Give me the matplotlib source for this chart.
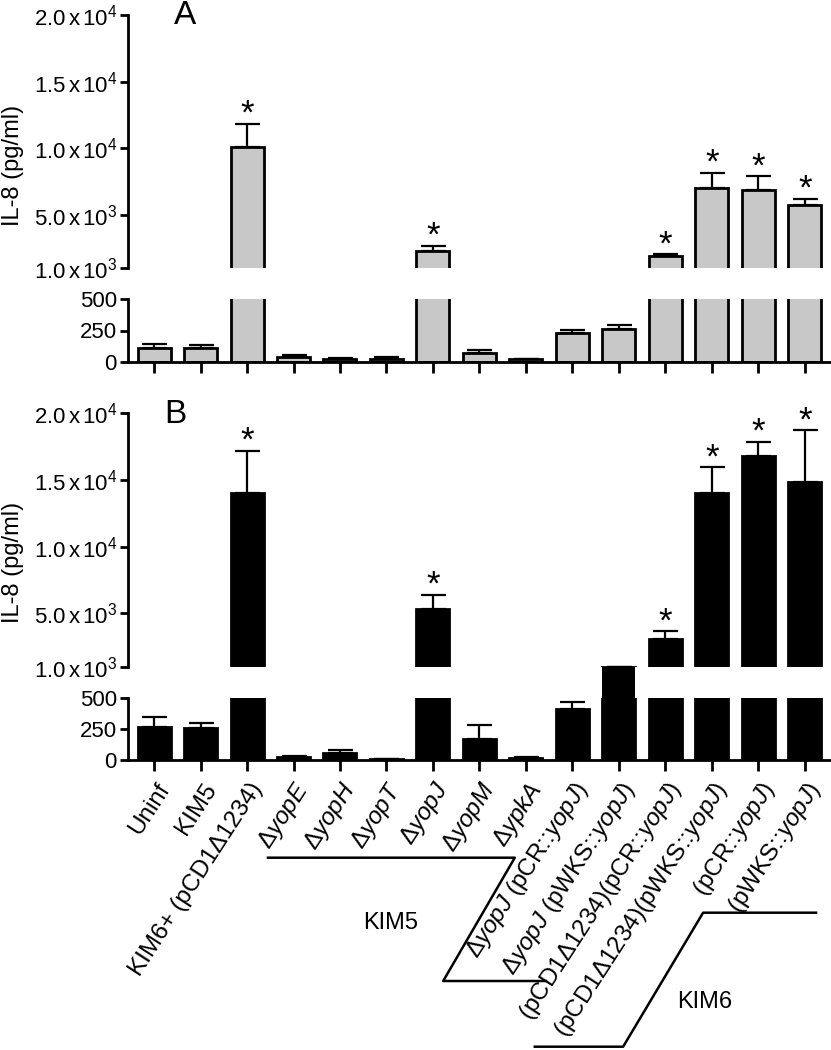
import matplotlib
matplotlib.use("Agg")
import matplotlib.pyplot as plt
import matplotlib.transforms as mtransforms
import numpy as np

plt.rcParams['font.family'] = ['Liberation Sans', 'DejaVu Sans']
plt.rcParams['mathtext.fontset'] = 'custom'
plt.rcParams['mathtext.rm'] = 'Liberation Sans'
plt.rcParams['mathtext.it'] = 'Liberation Sans:italic'
plt.rcParams['mathtext.bf'] = 'Liberation Sans:bold'

# ---------------- data ----------------
categories = ['Uninf', 'KIM5', 'KIM6+ (pCD1Δ1234)',
              'Δ$\\it{yopE}$', 'Δ$\\it{yopH}$', 'Δ$\\it{yopT}$', 'Δ$\\it{yopJ}$',
              'Δ$\\it{yopM}$', 'Δ$\\it{ypkA}$',
              'Δ$\\it{yopJ}$ (pCR::$\\it{yopJ}$)', 'Δ$\\it{yopJ}$ (pWKS::$\\it{yopJ}$)',
              '(pCD1Δ1234)(pCR::$\\it{yopJ}$)', '(pCD1Δ1234)(pWKS::$\\it{yopJ}$)',
              '(pCR::$\\it{yopJ}$)', '(pWKS::$\\it{yopJ}$)']

a_values = [115, 110, 10080, 40, 22, 25, 2300, 70, 20, 230, 262, 1900, 7000, 6850, 5700]
a_errors = [28, 25, 1770, 15, 10, 12, 350, 27, 6, 25, 28, 120, 1150, 1050, 500]
a_signif = [0, 0, 1, 0, 0, 0, 1, 0, 0, 0, 0, 1, 1, 1, 1]

b_values = [263, 255, 14050, 28, 60, 5, 5300, 166, 20, 407, 1000, 3050, 14050, 16800, 14870]
b_errors = [80, 45, 3150, 6, 20, 2, 1080, 118, 6, 60, 0, 600, 1900, 1050, 3850]
b_signif = [0, 0, 1, 0, 0, 0, 1, 0, 0, 0, 0, 1, 1, 1, 1]

upper_ticks = [1000, 5000, 10000, 15000, 20000]
upper_ticklabels = ['1.0$\\,$x$\\,$10$^{3}$', '5.0$\\,$x$\\,$10$^{3}$', '1.0$\\,$x$\\,$10$^{4}$',
                    '1.5$\\,$x$\\,$10$^{4}$', '2.0$\\,$x$\\,$10$^{4}$']
lower_ticks = [0, 250, 500]
lower_ticklabels = ['0', '250', '500']

group_labels = ['KIM5', 'KIM6']
# ---------------------------------------

W, H = 831, 1050
fig = plt.figure(figsize=(W / 100, H / 100), dpi=100)

def fx(px):
    return px / W

def fy(py):
    return 1 - py / H

left = fx(128)
width = fx(830) - left
XLIM = (-0.56, 14.54)
BW = 0.71
LW = 2.0
x = np.arange(len(categories))


def style_axis(ax):
    for s in ['top', 'right']:
        ax.spines[s].set_visible(False)
    for s in ['left', 'bottom']:
        ax.spines[s].set_linewidth(LW)
    ax.tick_params(axis='y', direction='out', length=6, width=LW, labelsize=16, pad=2)
    ax.tick_params(axis='x', direction='out', length=8, width=LW)
    ax.set_xlim(*XLIM)


def panel(values, errors, signif, top_px, brk_top_px, brk_bot_px, bot_px, color, letter, letter_xy, ylab_y):
    ax_up = fig.add_axes([left, fy(brk_top_px), width, (brk_top_px - top_px) / H])
    ax_gap = fig.add_axes([left, fy(brk_bot_px), width, (brk_bot_px - brk_top_px) / H])
    ax_lo = fig.add_axes([left, fy(bot_px), width, (bot_px - brk_bot_px) / H])
    v = np.array(values, float)
    e = np.array(errors, float)
    for ax in (ax_up, ax_lo):
        ax.bar(x, v, width=BW, color=color, edgecolor='black', linewidth=LW, zorder=2)
        ax.errorbar(x, v, yerr=[np.zeros_like(e), e], fmt='none', ecolor='black',
                    elinewidth=1.6, capsize=9, capthick=1.6, zorder=1)
        style_axis(ax)
    ax_up.set_ylim(1000, 20000)
    ax_up.spines['bottom'].set_visible(False)
    ax_up.set_xticks([])
    ax_up.set_yticks(upper_ticks)
    ax_up.set_yticklabels(upper_ticklabels)
    ax_lo.set_ylim(0, 500)
    ax_lo.set_yticks(lower_ticks)
    ax_lo.set_yticklabels(lower_ticklabels)
    ax_lo.set_xticks(x)
    ax_lo.set_xticklabels([])
    # bars whose value falls inside the axis break
    ax_gap.set_xlim(*XLIM)
    ax_gap.set_ylim(500, 1000)
    ax_gap.axis('off')
    inside = (v > 500) & (v <= 1000)
    ax_gap.bar(x[inside], v[inside], width=BW, color=color, edgecolor='none', linewidth=0)
    # significance stars
    for xi, vi, ei, s in zip(x, v, e, signif):
        if s:
            ax_up.text(xi, vi + ei, '*', ha='center', va='baseline', fontsize=25,
                       clip_on=False)
    fig.text(fx(letter_xy[0]), fy(letter_xy[1]), letter, fontsize=24, ha='center', va='center')
    fig.text(fx(13), fy(ylab_y), 'IL-8 (pg/ml)', rotation=90, fontsize=17,
             ha='center', va='center')
    return ax_up, ax_lo


panel(a_values, a_errors, a_signif, 15, 268, 299, 362, '#c8c8c8', 'A', (185, 15), 165)
ax_up_b, ax_lo_b = panel(b_values, b_errors, b_signif, 413.3, 666.7, 697.7, 760, 'black', 'B', (175, 414), 562)

# x tick labels (panel B only)
offset = mtransforms.ScaledTranslation(11 / 100, -25 / 100, fig.dpi_scale_trans)
for xi, lab in zip(x, categories):
    ax_lo_b.text(xi, 0, lab, transform=ax_lo_b.get_xaxis_transform() + offset,
                 rotation=57, rotation_mode='anchor', ha='right', va='center', fontsize=17.5)

# group brackets
blend = mtransforms.blended_transform_factory(ax_lo_b.transData, fig.transFigure)
kim5_x = [2.45, 7.76, 6.22, 8.43]
kim5_y = [fy(857.7), fy(857.7), fy(981), fy(981)]
kim6_x = [8.19, 10.09, 11.81, 14.24]
kim6_y = [fy(1046.7), fy(1046.7), fy(912.7), fy(912.7)]
for xs, ys in ((kim5_x, kim5_y), (kim6_x, kim6_y)):
    fig.add_artist(plt.Line2D(xs, ys, transform=blend, color='black', linewidth=1.8))
fig.text(5.08, fy(923), group_labels[0], transform=blend, fontsize=17, ha='center', va='center')
fig.text(11.85, fy(1002), group_labels[1], transform=blend, fontsize=17, ha='center', va='center')

fig.savefig('out.png', dpi=100)
